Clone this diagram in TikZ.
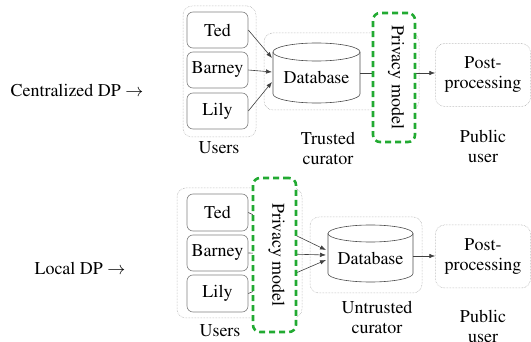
\documentclass[tikz,border=0pt]{standalone}
\usepackage[T1]{fontenc}
\usepackage{mathptmx}
\usetikzlibrary{arrows.meta}
\definecolor{dpgreen}{RGB}{34,170,50}
\begin{document}
\begin{tikzpicture}[x=1pt,y=-1pt,
  font=\fontsize{18}{20}\selectfont,
  outerbox/.style={draw=gray!75, densely dotted, rounded corners=9pt, line width=0.5pt, inner sep=0},
  userbox/.style={draw=gray, rounded corners=6pt, line width=0.6pt, minimum width=61pt, minimum height=36pt, inner sep=0},
  pmbox/.style={draw=dpgreen, dash pattern=on 6pt off 4pt, line width=2.6pt, rounded corners=7pt, fill=white, inner sep=0},
  cylline/.style={draw=black!70, line width=0.6pt},
  conn/.style={draw=black!75, line width=0.6pt, -{Latex[length=6pt,width=4.5pt]}},
  lbl/.style={align=center, inner sep=0},
]
\useasboundingbox (0,0) rectangle (531,342);

% ---------- Centralized DP ----------
\node[lbl] (centr) at (77,90) {Centralized DP $\rightarrow$};

\node[outerbox, minimum width=73pt, minimum height=131pt] (usersT) at (219.5,71.5) {};
\node[userbox] (tedT) at (217.5,30) {Ted};
\node[userbox] (barneyT) at (217.5,70) {Barney};
\node[userbox] (lilyT) at (217.5,111) {Lily};
\node[lbl] (usersTl) at (219,148) {Users};

\node[outerbox, minimum width=155pt, minimum height=77pt] (curT) at (341.5,71.5) {};
\node[inner sep=0, minimum width=87pt, minimum height=60pt] (dbT) at (316.5,73) {};
\draw[cylline] (273,52) -- (273,94) arc[start angle=180,end angle=0,x radius=43.5,y radius=9] -- (360,52);
\draw[cylline] (316.5,52) ellipse[x radius=43.5,y radius=9];
\node[lbl] (dbTl) at (316.5,77) {Database};
\node[lbl] (curTl) at (328,148) {Trusted\\curator};

\node[outerbox, minimum width=95pt, minimum height=63pt, lbl] (postT) at (483,75) {Post-\\processing};
\node[lbl] (pubT) at (483,146) {Public\\user};

\coordinate (dbTa) at (272,58);
\coordinate (dbTb) at (272,72);
\coordinate (dbTc) at (272,82);
\draw[conn] (tedT.east) -- (dbTa);
\draw[conn] (barneyT.east) -- (dbTb);
\draw[conn] (lilyT.east) -- (dbTc);
\draw[conn] (360,73) -- (postT.west |- 0,73);

\node[pmbox, minimum width=42pt, minimum height=129pt] (pmT) at (394,77.5) {};
\node[lbl, rotate=-90] (pmTl) at (396,77.5) {Privacy model};

% ---------- Local DP ----------
\node[lbl] (local) at (80,268) {Local DP $\rightarrow$};

\node[outerbox, minimum width=125pt, minimum height=130pt] (usersB) at (239.5,253) {};
\node[userbox, minimum height=37pt] (tedB) at (217.5,212.5) {Ted};
\node[userbox] (barneyB) at (217.5,253) {Barney};
\node[userbox, minimum height=37pt] (lilyB) at (217.5,293.5) {Lily};
\node[lbl] (usersBl) at (220,331) {Users};

\node[outerbox, minimum width=112pt, minimum height=76pt] (curB) at (366,255) {};
\node[inner sep=0, minimum width=85pt, minimum height=57pt] (dbB) at (370.5,253.5) {};
\draw[cylline] (328,233.5) -- (328,273.5) arc[start angle=180,end angle=0,x radius=42.5,y radius=8.5] -- (413,233.5);
\draw[cylline] (370.5,233.5) ellipse[x radius=42.5,y radius=8.5];
\node[lbl] (dbBl) at (370.5,258) {Database};
\node[lbl] (curBl) at (377,317) {Untrusted\\curator};

\node[outerbox, minimum width=95pt, minimum height=63pt, lbl] (postB) at (483,256.5) {Post-\\processing};
\node[lbl] (pubB) at (483,326) {Public\\user};

\coordinate (dbBa) at (326,250);
\coordinate (dbBb) at (326,255);
\coordinate (dbBc) at (326,260);
\draw[conn] (tedB.east) -- (dbBa);
\draw[conn] (barneyB.east) -- (dbBb);
\draw[conn] (lilyB.east) -- (dbBc);
\draw[conn] (413,256) -- (postB.west |- 0,256);

\node[pmbox, minimum width=43pt, minimum height=154pt] (pmB) at (274.5,255) {};
\node[lbl, rotate=-90] (pmBl) at (276.5,255) {Privacy model};
\end{tikzpicture}
\end{document}
